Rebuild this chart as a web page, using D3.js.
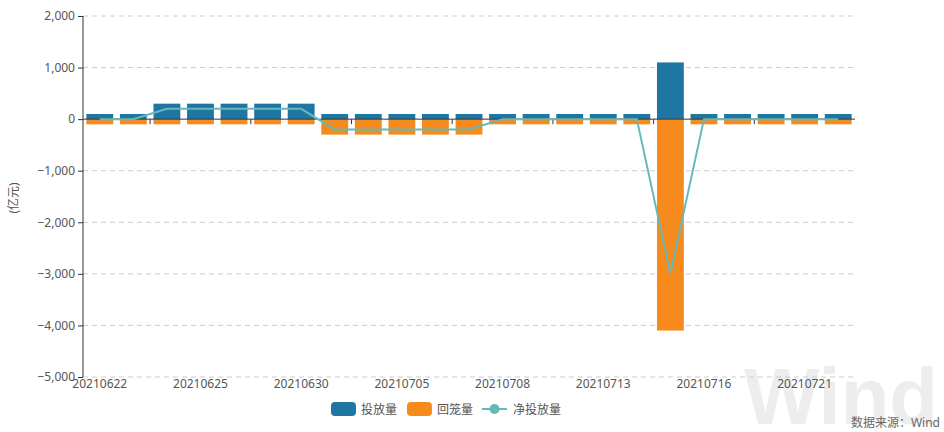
<!DOCTYPE html>
<html><head><meta charset="utf-8">
<script src="https://cdn.jsdelivr.net/npm/d3@7/dist/d3.min.js"></script>
<style>body{margin:0;background:#fff}svg{display:block}text{font-family:"Noto Sans","Noto Sans CJK SC",sans-serif}</style>
</head><body><svg id="c" width="944" height="432"></svg>
<script>
const dates = ["20210622","20210623","20210624","20210625","20210628","20210629","20210630","20210701","20210702","20210705","20210706","20210707","20210708","20210709","20210712","20210713","20210714","20210715","20210716","20210719","20210720","20210721","20210722"];
const injection = [100,100,300,300,300,300,300,100,100,100,100,100,100,100,100,100,100,1100,100,100,100,100,100];
const withdrawal = [-100,-100,-100,-100,-100,-100,-100,-300,-300,-300,-300,-300,-100,-100,-100,-100,-100,-4100,-100,-100,-100,-100,-100];
const net = [0,0,200,200,200,200,200,-200,-200,-200,-200,-200,0,0,0,0,0,-3000,0,0,0,0,0];
const yTicks = [2000,1000,0,-1000,-2000,-3000,-4000,-5000];
const labelIdx = [0,3,6,9,12,15,18,21];
const tickIdx = [2,5,8,11,14,17,20];
const legendItems = ["投放量","回笼量","净投放量"];

const svg = d3.select("#c");
const L=83,R=855,T=16,B=377;
const x = d3.scaleBand().domain(dates).range([L,R]).paddingInner(0.2).paddingOuter(0.1);
const y = d3.scaleLinear().domain([-5000,2000]).range([B,T]);
const blue="#1f76a3", orange="#f78a1d", teal="#66b9ba";

// watermark
svg.append("text").attr("x",744).attr("y",424).attr("font-size",80).attr("font-weight","bold")
  .attr("fill","#ededed").attr("textLength",194).attr("lengthAdjust","spacingAndGlyphs")
  .style("font-family","'Liberation Sans',sans-serif").text("Wind");

// grid
svg.append("g").selectAll("line").data(yTicks.filter(d=>d!==0)).join("line")
  .attr("x1",L).attr("x2",R).attr("y1",d=>y(d)).attr("y2",d=>y(d))
  .attr("stroke","#cccccc").attr("stroke-dasharray","5,4");

// y axis
const ya = svg.append("g").attr("transform",`translate(${L},0)`)
  .call(d3.axisLeft(y).tickValues(yTicks).tickSize(5).tickPadding(3).tickFormat(d3.format(",")));
ya.select(".domain").attr("stroke","#333").attr("d",`M0,${T}V${B}`);
ya.selectAll(".tick line").attr("stroke","#333");
ya.selectAll("text").attr("fill","#555").attr("font-size",12).style("font-family","'Noto Sans',sans-serif");

svg.append("text").attr("transform","translate(18,198) rotate(-90)").attr("text-anchor","middle")
  .attr("font-size",12).attr("fill","#555").text("(亿元)");

// bars
svg.append("g").selectAll("rect").data(dates).join("rect")
  .attr("x",d=>x(d)).attr("width",x.bandwidth())
  .attr("y",(d,i)=>y(injection[i])).attr("height",(d,i)=>y(0)-y(injection[i])).attr("fill",blue);
svg.append("g").selectAll("rect").data(dates).join("rect")
  .attr("x",d=>x(d)).attr("width",x.bandwidth())
  .attr("y",y(0)).attr("height",(d,i)=>y(withdrawal[i])-y(0)).attr("fill",orange);

// x axis at zero
svg.append("line").attr("x1",L).attr("x2",R).attr("y1",y(0)).attr("y2",y(0)).attr("stroke","#333");
svg.append("g").selectAll("line").data(tickIdx).join("line")
  .attr("x1",i=>L+i*x.step()).attr("x2",i=>L+i*x.step())
  .attr("y1",y(0)).attr("y2",y(0)+5).attr("stroke","#333");
svg.append("g").selectAll("text").data(labelIdx).join("text")
  .attr("x",i=>x(dates[i])+x.bandwidth()/2).attr("y",388).attr("text-anchor","middle")
  .attr("font-size",12).attr("fill","#555").text(i=>dates[i]);

// net line
svg.append("path").datum(net)
  .attr("d",d3.line().x((d,i)=>x(dates[i])+x.bandwidth()/2).y(d=>y(d)))
  .attr("fill","none").attr("stroke",teal).attr("stroke-width",2);

// legend
const lg = svg.append("g");
lg.append("rect").attr("x",331).attr("y",402).attr("width",25).attr("height",14).attr("rx",4).attr("fill",blue);
lg.append("text").attr("x",361).attr("y",413.5).attr("font-size",12).attr("fill","#555").text(legendItems[0]);
lg.append("rect").attr("x",407).attr("y",402).attr("width",25).attr("height",14).attr("rx",4).attr("fill",orange);
lg.append("text").attr("x",437).attr("y",413.5).attr("font-size",12).attr("fill","#555").text(legendItems[1]);
lg.append("line").attr("x1",482).attr("x2",507).attr("y1",409).attr("y2",409).attr("stroke",teal).attr("stroke-width",2);
lg.append("circle").attr("cx",494.5).attr("cy",409).attr("r",5).attr("fill",teal);
lg.append("text").attr("x",513).attr("y",413.5).attr("font-size",12).attr("fill","#555").text(legendItems[2]);

// source
svg.append("text").attr("x",940).attr("y",427).attr("text-anchor","end").attr("font-size",12)
  .attr("fill","#666").text("数据来源：Wind");
</script></body></html>
